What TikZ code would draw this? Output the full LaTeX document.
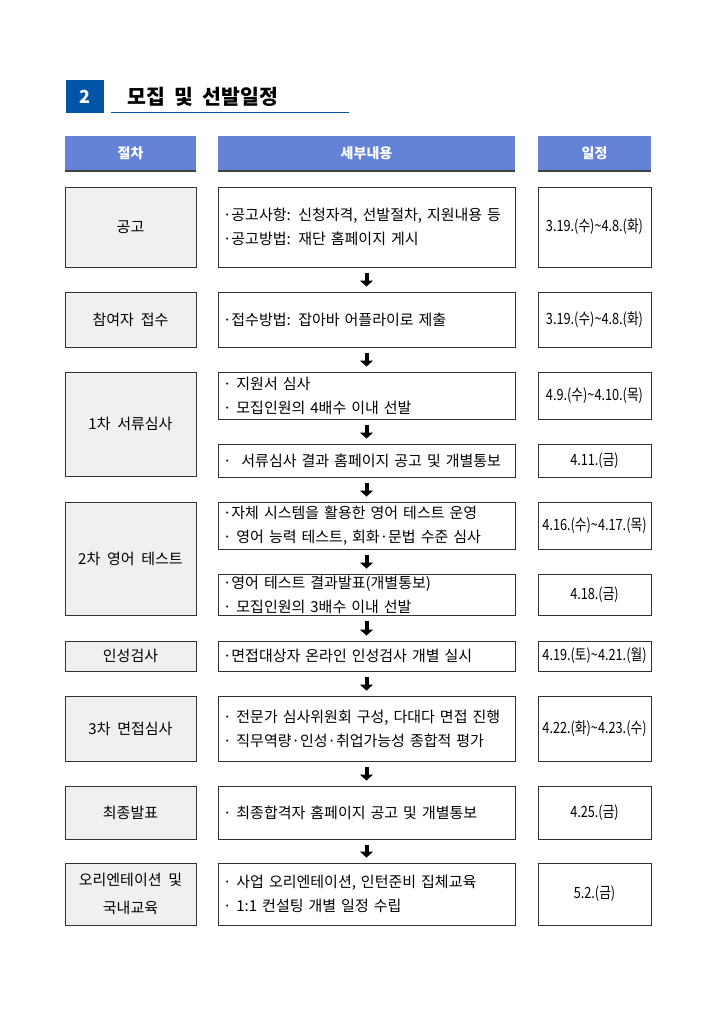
\documentclass[tikz,border=0pt]{standalone}
\usepackage{fontspec}
\setmainfont{Noto Sans CJK KR}
\newfontfamily\bodyfont{Noto Sans CJK KR}[WordSpace=2]
\newfontfamily\datefont{Noto Sans CJK KR}[FakeStretch=0.82]
\usepackage{tikz}
\usetikzlibrary{arrows.meta,shadows,positioning}

\definecolor{titleblue}{RGB}{0,84,166}
\definecolor{headblue}{RGB}{100,130,214}
\definecolor{stepgray}{RGB}{240,240,240}

\tikzset{
  headbar/.style={fill=headblue, text=white, font=\fontsize{14}{16}\selectfont\bfseries,
    minimum height=34pt, inner sep=0pt,
    drop shadow={shadow xshift=0pt, shadow yshift=-2.5pt, fill=black!75, opacity=1}},
  stepbox/.style={draw=black!80, line width=0.9pt, fill=stepgray, inner sep=0pt,
    minimum width=131pt, align=center, font=\bodyfont\fontsize{15}{28}\selectfont,
    drop shadow={shadow xshift=1pt, shadow yshift=-1pt, fill=black!40, opacity=1}},
  detailbox/.style={draw=black!80, line width=0.9pt, fill=white, minimum width=297pt,
    text width=287pt, inner xsep=5pt, inner ysep=0pt, align=left,
    font=\bodyfont\fontsize{15}{24}\selectfont,
    drop shadow={shadow xshift=1pt, shadow yshift=-1pt, fill=black!40, opacity=1}},
  datebox/.style={draw=black!80, line width=0.9pt, fill=white, minimum width=113pt,
    inner sep=0pt, font=\datefont\fontsize{15.5}{17}\selectfont,
    drop shadow={shadow xshift=1pt, shadow yshift=-1pt, fill=black!40, opacity=1}},
  flowarrow/.style={-{Triangle[width=13pt,length=6pt]}, line width=4pt,
    shorten >=5pt, shorten <=6pt}
}

\begin{document}
\begin{tikzpicture}[x=1pt,y=-1pt]
  \useasboundingbox (0,0) rectangle (711,1011);
  % Section title
  \node[fill=titleblue, text=white, minimum width=38pt, minimum height=33pt,
    inner sep=0pt, font=\fontsize{18}{20}\selectfont\bfseries] (num) at (85,96.5) {2};
  \node[anchor=west, inner sep=0pt, font=\bodyfont\fontsize{20.5}{22}\selectfont\bfseries] (title) at (127,97) {모집 및 선발일정};
  \coordinate (ulstart) at (111,112.5);
  \coordinate (ulend) at (349,112.5);
  \draw[titleblue, line width=1.3pt] (ulstart) -- (ulend);
  % Column headers
  \node[headbar, minimum width=131pt] (hstep) at (130.5,153) {절차};
  \node[headbar, minimum width=297pt] (hdetail) at (366.5,153) {세부내용};
  \node[headbar, minimum width=113pt] (hdate) at (594.5,153) {일정};
  % Steps (left column)
  \foreach \nm/\yt/\yb/\txt in {
    s1/187/267/공고, s2/292/347/참여자 접수, s3/372/476/1차 서류심사,
    s4/502/615/2차 영어 테스트, s5/641/671/인성검사, s6/696/761/3차 면접심사,
    s7/786/839/최종발표, s8/863/925/{오리엔테이션 및\\국내교육}}{
    \node[stepbox, minimum height=\yb-\yt] (\nm) at (130.5,{(\yt+\yb)/2}) {\txt};
  }
  % Details (middle column)
  \foreach \nm/\yt/\yb/\txt in {
    m1/187/267/{·공고사항: 신청자격, 선발절차, 지원내용 등\\·공고방법: 재단 홈페이지 게시},
    m2/292/347/{·접수방법: 잡아바 어플라이로 제출},
    m3a/372/419/{· 지원서 심사\\· 모집인원의 4배수 이내 선발},
    m3b/444/477/{·~ 서류심사 결과 홈페이지 공고 및 개별통보},
    m4a/502/549/{·자체 시스템을 활용한 영어 테스트 운영\\· 영어 능력 테스트, 회화·문법 수준 심사},
    m4b/574/615/{·영어 테스트 결과발표(개별통보)\\· 모집인원의 3배수 이내 선발},
    m5/641/671/{·면접대상자 온라인 인성검사 개별 실시},
    m6/696/761/{· 전문가 심사위원회 구성, 다대다 면접 진행\\· 직무역량·인성·취업가능성 종합적 평가},
    m7/786/839/{· 최종합격자 홈페이지 공고 및 개별통보},
    m8/863/925/{· 사업 오리엔테이션, 인턴준비 집체교육\\· 1:1 컨설팅 개별 일정 수립}}{
    \node[detailbox, minimum height=\yb-\yt] (\nm) at (366.5,{(\yt+\yb)/2}) {\txt};
  }
  % Dates (right column)
  \foreach \nm/\yt/\yb/\txt in {
    d1/187/267/3.19.(수)\textasciitilde 4.8.(화), d2/292/347/3.19.(수)\textasciitilde 4.8.(화),
    d3a/372/419/4.9.(수)\textasciitilde 4.10.(목), d3b/444/477/4.11.(금),
    d4a/502/549/4.16.(수)\textasciitilde 4.17.(목), d4b/574/615/4.18.(금),
    d5/641/671/4.19.(토)\textasciitilde 4.21.(월), d6/696/761/4.22.(화)\textasciitilde 4.23.(수),
    d7/786/839/4.25.(금), d8/863/925/5.2.(금)}{
    \node[datebox, minimum height=\yb-\yt] (\nm) at (594.5,{(\yt+\yb)/2}) {\txt};
  }
  % Flow arrows
  \foreach \a/\b in {m1/m2, m2/m3a, m3a/m3b, m3b/m4a, m4a/m4b, m4b/m5, m5/m6, m6/m7, m7/m8}{
    \draw[flowarrow] (\a) -- (\b);
  }
\end{tikzpicture}
\end{document}
